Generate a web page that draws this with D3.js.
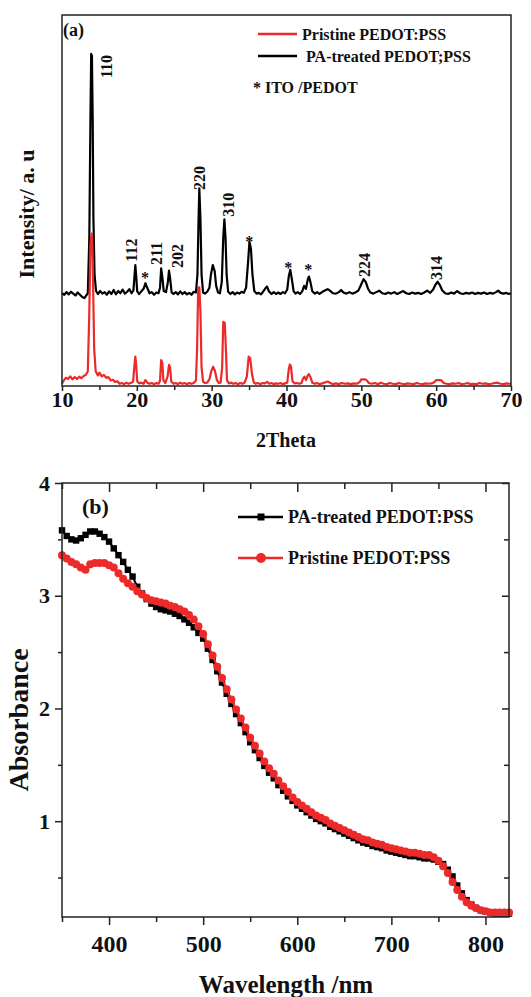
<!DOCTYPE html>
<html>
<head>
<meta charset="utf-8">
<script src="https://cdn.jsdelivr.net/npm/d3@7"></script>
<style>
  body { margin: 0; background: #fff; }
  text { font-family: "Liberation Serif", "Times New Roman", serif; font-weight: bold; fill: #111; }
</style>
</head>
<body>
<div id="chart"></div>
<script>
// ---- (a) XRD data, [2theta, intensity a.u.] ----
var xrdPA = [[10.0,25.0],[10.3,24.6],[10.6,25.3],[10.9,24.7],[11.2,25.4],[11.5,24.9],[11.8,24.4],[12.1,25.2],[12.4,24.6],[12.7,24.0],[13.0,23.7],[13.2,24.3],[13.45,25.0],[13.65,40],[13.8,72],[13.9,89.5],[14.0,89.0],[14.1,72],[14.2,45],[14.35,30],[14.55,25.6],[14.8,24.8],[15.1,25.6],[15.4,24.9],[15.7,25.3],[16.0,24.6],[16.3,25.5],[16.6,24.8],[16.9,25.9],[17.2,24.7],[17.5,25.6],[17.8,25.0],[18.1,26.0],[18.4,24.9],[18.7,25.4],[19.0,26.1],[19.3,25.0],[19.55,25.8],[19.7,30],[19.8,32.6],[19.9,30],[20.05,25.5],[20.3,24.8],[20.6,25.5],[20.9,26.2],[21.15,27.7],[21.4,26.4],[21.7,25.0],[22.0,25.3],[22.3,24.6],[22.6,25.2],[22.9,25.0],[23.1,26.5],[23.25,31.7],[23.4,29.5],[23.6,25.6],[23.9,25.3],[24.15,28],[24.3,31.1],[24.45,29],[24.65,25.2],[24.9,24.8],[25.2,25.3],[25.5,24.7],[25.8,25.5],[26.1,24.8],[26.4,25.3],[26.7,24.7],[27.0,25.1],[27.3,24.6],[27.6,25.4],[27.9,25.2],[28.1,30],[28.25,45],[28.35,53.3],[28.5,45],[28.65,30],[28.85,25.2],[29.1,24.9],[29.4,25.4],[29.7,26.5],[29.9,30],[30.15,32.6],[30.4,31.0],[30.6,27],[30.85,25.2],[31.1,25.0],[31.35,28],[31.55,40],[31.7,44.9],[31.85,40],[32.0,30],[32.2,25.4],[32.5,24.8],[32.8,25.3],[33.1,24.7],[33.4,25.2],[33.7,24.9],[34.0,25.4],[34.3,25.1],[34.6,26.5],[34.85,33],[35.05,38.9],[35.25,37],[35.45,30],[35.7,25.6],[36.0,24.9],[36.3,25.1],[36.6,24.7],[36.9,25.5],[37.2,26.4],[37.4,26.8],[37.65,25.5],[38.0,24.8],[38.3,25.3],[38.6,24.8],[38.9,25.2],[39.2,24.8],[39.5,25.3],[39.8,25.0],[40.1,26.0],[40.3,29.5],[40.5,31.3],[40.7,29],[40.95,25.6],[41.2,24.9],[41.5,25.3],[41.8,24.8],[42.1,25.5],[42.35,27.0],[42.6,26.2],[42.85,28.8],[43.0,29.5],[43.2,28],[43.45,25.5],[43.8,24.9],[44.1,25.3],[44.4,24.8],[44.8,25.4],[45.2,25.8],[45.5,26.1],[45.8,25.7],[46.2,25.0],[46.6,24.9],[47.0,25.3],[47.3,25.9],[47.6,25.2],[48.0,24.9],[48.4,25.3],[48.8,24.9],[49.2,25.2],[49.6,25.7],[49.9,27],[50.3,28.8],[50.6,28],[50.9,26.2],[51.2,25.2],[51.6,24.9],[52.0,25.3],[52.4,25.7],[52.8,25.0],[53.2,24.8],[53.6,25.2],[54.0,24.9],[54.4,25.3],[54.8,24.8],[55.2,25.2],[55.6,25.6],[56.0,25.0],[56.4,24.8],[56.8,25.2],[57.2,24.9],[57.6,25.1],[58.0,24.8],[58.4,25.2],[58.8,25.7],[59.2,25.1],[59.6,26],[59.9,27.3],[60.2,28.1],[60.5,27.2],[60.8,25.8],[61.2,25.0],[61.6,24.8],[62.0,25.2],[62.4,24.9],[62.8,25.6],[63.2,25.0],[63.6,24.8],[64.0,25.1],[64.4,24.9],[64.8,25.2],[65.2,24.8],[65.6,25.1],[66.0,24.9],[66.4,25.2],[66.8,24.8],[67.2,25.1],[67.6,24.9],[68.0,25.3],[68.3,25.7],[68.6,25.1],[69.0,24.9],[69.4,25.1],[69.7,24.8],[70.0,25.0]];

var xrdPristine = [[10.0,0.6],[10.2,1.4],[10.5,2.2],[10.8,1.9],[11.1,2.6],[11.4,1.8],[11.7,2.4],[12.0,1.9],[12.3,2.5],[12.6,2.1],[12.9,2.7],[13.2,3.0],[13.45,4],[13.65,20],[13.8,38],[13.95,41.1],[14.05,39],[14.15,28],[14.3,10],[14.5,4],[14.8,2.8],[15.0,3.6],[15.3,2.6],[15.6,3.0],[15.9,2.2],[16.2,2.4],[16.5,1.5],[16.8,1.7],[17.1,1.1],[17.4,1.3],[17.7,0.6],[18.0,0.8],[18.3,0.5],[18.6,0.9],[18.9,0.6],[19.2,0.8],[19.5,1.2],[19.7,6],[19.8,7.9],[19.9,6],[20.05,1.3],[20.3,0.7],[20.6,0.9],[20.9,0.6],[21.15,1.6],[21.4,0.9],[21.7,0.6],[22.0,0.8],[22.3,0.5],[22.6,0.8],[22.9,0.6],[23.1,1.5],[23.25,7.0],[23.4,6.3],[23.55,1.5],[23.8,0.8],[24.1,2.5],[24.3,5.7],[24.45,5.0],[24.6,1.2],[24.9,0.6],[25.2,0.8],[25.5,0.5],[25.8,0.9],[26.1,0.6],[26.4,0.8],[26.7,0.5],[27.0,0.8],[27.3,0.6],[27.6,0.8],[27.9,1.5],[28.05,10],[28.2,26.6],[28.35,26.6],[28.5,20],[28.65,5],[28.85,1.2],[29.1,0.8],[29.4,0.9],[29.7,1.8],[29.95,4],[30.2,5.2],[30.45,4],[30.7,1.6],[30.95,0.8],[31.2,0.9],[31.4,5],[31.55,17.3],[31.75,17.0],[31.9,10],[32.05,1.5],[32.3,0.7],[32.6,0.9],[32.9,0.6],[33.2,0.8],[33.5,0.5],[33.8,0.8],[34.1,0.6],[34.4,0.9],[34.7,2.5],[34.95,7.9],[35.15,7.5],[35.4,3],[35.65,0.9],[35.9,0.6],[36.2,0.8],[36.5,0.5],[36.8,0.8],[37.1,0.7],[37.4,1.1],[37.7,0.6],[38.0,0.8],[38.3,0.5],[38.6,0.7],[38.9,0.6],[39.2,0.8],[39.5,0.5],[39.8,0.7],[40.1,0.9],[40.3,4.5],[40.45,5.8],[40.6,5.2],[40.8,1.3],[41.1,0.7],[41.4,0.8],[41.7,0.6],[42.0,0.8],[42.2,2.0],[42.4,2.5],[42.6,1.6],[42.85,2.9],[43.0,3.2],[43.2,2.4],[43.45,0.9],[43.8,0.6],[44.1,0.8],[44.4,0.5],[44.8,0.7],[45.2,1.0],[45.5,1.2],[45.8,0.9],[46.2,0.5],[46.6,0.7],[47.0,0.5],[47.4,0.8],[47.8,0.6],[48.2,0.7],[48.6,0.5],[49.0,0.7],[49.4,0.6],[49.8,1.1],[50.0,1.8],[50.4,1.8],[50.7,1.6],[51.0,0.8],[51.4,0.6],[51.8,0.8],[52.2,0.5],[52.6,0.9],[53.0,0.6],[53.4,0.5],[53.8,0.8],[54.2,0.6],[54.6,0.5],[55.0,0.8],[55.4,0.6],[55.8,0.5],[56.2,0.7],[56.6,0.6],[57.0,0.5],[57.4,0.8],[57.8,0.6],[58.2,0.5],[58.6,0.7],[59.0,0.6],[59.4,0.7],[59.8,1.1],[60.0,1.6],[60.4,1.6],[60.7,1.5],[61.0,0.8],[61.4,0.6],[61.8,0.5],[62.2,0.7],[62.6,0.6],[63.0,0.8],[63.4,0.5],[63.8,0.6],[64.2,0.8],[64.6,0.5],[65.0,0.6],[65.4,0.5],[65.8,0.8],[66.2,0.6],[66.6,0.7],[67.0,0.5],[67.4,0.6],[67.8,0.8],[68.2,0.9],[68.6,0.6],[69.0,0.5],[69.4,0.7],[69.8,0.6],[70.0,0.5]];

// peak labels (hkl) and ITO stars, placed at [2theta, intensity]
var hklLabels = [["110",15.97,83.0],["112",19.31,33.5],["211",22.63,32.6],["202",25.39,31.8],["220",28.33,52.8],["310",32.22,45.6],["224",50.43,29.4],["314",59.98,28.6]];
var itoStars = [[21.09,29.9],[35.03,39.5],[40.24,32.6],[42.91,32.0]];
var thetaTicks = [10, 20, 30, 40, 50, 60, 70];

// ---- (b) UV-vis absorbance, every 5 nm from 350 to 825 ----
var wavelengths = d3.range(350, 826, 5);
var absPA = [3.58,3.53,3.50,3.49,3.51,3.54,3.57,3.57,3.55,3.52,3.48,3.42,3.36,3.30,3.23,3.17,3.08,3.02,2.97,2.93,2.90,2.88,2.87,2.86,2.84,2.82,2.79,2.76,2.72,2.67,2.62,2.53,2.43,2.33,2.23,2.13,2.04,1.95,1.87,1.79,1.70,1.63,1.56,1.49,1.43,1.38,1.32,1.27,1.22,1.18,1.14,1.11,1.08,1.05,1.02,1.00,0.98,0.95,0.93,0.91,0.89,0.87,0.85,0.83,0.81,0.80,0.78,0.77,0.76,0.74,0.73,0.72,0.71,0.70,0.69,0.69,0.68,0.67,0.67,0.66,0.64,0.62,0.57,0.51,0.43,0.36,0.30,0.26,0.23,0.21,0.20,0.19,0.18,0.18,0.18,0.18];
var absPristine = [3.36,3.33,3.30,3.28,3.25,3.23,3.28,3.29,3.29,3.29,3.27,3.25,3.20,3.15,3.11,3.08,3.04,3.01,2.98,2.96,2.95,2.94,2.93,2.91,2.90,2.88,2.86,2.83,2.79,2.73,2.66,2.57,2.47,2.37,2.27,2.17,2.08,1.99,1.91,1.83,1.74,1.67,1.60,1.53,1.47,1.42,1.36,1.31,1.26,1.21,1.17,1.14,1.11,1.08,1.05,1.03,1.01,0.98,0.96,0.94,0.92,0.90,0.88,0.86,0.84,0.83,0.81,0.80,0.79,0.77,0.76,0.75,0.74,0.73,0.72,0.72,0.71,0.70,0.70,0.68,0.65,0.60,0.54,0.46,0.39,0.33,0.28,0.25,0.23,0.21,0.20,0.19,0.19,0.19,0.19,0.19];
var wlAllTicks = [350, 400, 450, 500, 550, 600, 650, 700, 750, 800];
var absTicks = [1, 2, 3, 4];
var absMinor = [0.5, 1.5, 2.5, 3.5];

var RED = "#ec2a2a";

var svg = d3.select("#chart").append("svg")
    .attr("width", 531)
    .attr("height", 997);

// ================= panel (a) =================
var xA = d3.scaleLinear().domain([10, 70]).range([62, 511]);
var yA = d3.scaleLinear().domain([0, 100]).range([386, 15]);

var gA = svg.append("g");

// minor ticks every 5 deg, outward
gA.append("g")
    .attr("transform", "translate(0,386)")
    .call(d3.axisBottom(xA).tickValues(d3.range(15, 70, 10)).tickSize(4).tickFormat(""))
    .call(function (g) { g.select(".domain").remove() });
gA.append("g")
    .attr("transform", "translate(0,386)")
    .call(d3.axisBottom(xA).tickValues(thetaTicks).tickSize(5).tickPadding(0).tickFormat(d3.format("d")))
    .call(function (g) { g.select(".domain").remove() })
    .selectAll("text").style("font-size", "22px").attr("fill", "#111");
gA.selectAll(".tick line").attr("stroke", "#222").attr("stroke-width", 1.5);

var lineA = d3.line().x(function (d) { return xA(d[0]) }).y(function (d) { return yA(d[1]) });

gA.append("path").datum(xrdPA)
    .attr("d", lineA).attr("fill", "none").attr("stroke", "#000").attr("stroke-width", 2.2).attr("stroke-linejoin", "round");
gA.append("path").datum(xrdPristine)
    .attr("d", lineA).attr("fill", "none").attr("stroke", RED).attr("stroke-width", 2.2).attr("stroke-linejoin", "round");

gA.append("rect").attr("x", 62).attr("y", 15).attr("width", 449).attr("height", 371)
    .attr("fill", "none").attr("stroke", "#222").attr("stroke-width", 1.5);

// hkl labels, rotated
gA.selectAll(".hkl").data(hklLabels).enter().append("text")
    .attr("class", "hkl")
    .attr("transform", function (d) { return "translate(" + (xA(d[1]) + 5.5) + "," + yA(d[2]) + ") rotate(-90)" })
    .style("font-size", "16px")
    .text(function (d) { return d[0] });

gA.selectAll(".star").data(itoStars).enter().append("text")
    .attr("class", "star")
    .attr("x", function (d) { return xA(d[0]) })
    .attr("y", function (d) { return yA(d[1]) + 8 })
    .attr("text-anchor", "middle")
    .style("font-size", "16px")
    .text("*");

gA.append("text").attr("x", 63).attr("y", 36).style("font-size", "18px").text("(a)");

// legend (a)
gA.append("line").attr("x1", 258).attr("x2", 297).attr("y1", 34).attr("y2", 34).attr("stroke", RED).attr("stroke-width", 2.5);
gA.append("text").attr("x", 302).attr("y", 40).style("font-size", "16px").text("Pristine PEDOT:PSS");
gA.append("line").attr("x1", 258).attr("x2", 297).attr("y1", 56).attr("y2", 56).attr("stroke", "#000").attr("stroke-width", 2.5);
gA.append("text").attr("x", 306).attr("y", 62).style("font-size", "16px").text("PA-treated PEDOT;PSS");
gA.append("text").attr("x", 253).attr("y", 93).style("font-size", "16px").text("* ITO /PEDOT");

gA.append("text").attr("transform", "translate(34,214) rotate(-90)").attr("text-anchor", "middle")
    .style("font-size", "22px").text("Intensity/ a. u");
gA.append("text").attr("x", 286).attr("y", 447).attr("text-anchor", "middle")
    .style("font-size", "20px").text("2Theta");

// ================= panel (b) =================
var xB = d3.scaleLinear().domain([350, 825]).range([62, 509]);
var yB = d3.scaleLinear().domain([0.15, 4]).range([917, 483]);

var gB = svg.append("g");

function isMajorWl(v) { return v % 100 === 0 }

// bottom (outward) and top (inward) ticks
gB.append("g").attr("transform", "translate(0,917)")
    .call(d3.axisBottom(xB).tickValues(wlAllTicks).tickSizeInner(0).tickFormat(function (v) { return isMajorWl(v) ? v : "" }).tickPadding(18))
    .call(function (g) {
        g.select(".domain").remove();
        g.selectAll(".tick line").attr("y2", function (v) { return isMajorWl(v) ? 8 : 5 });
    })
    .selectAll("text").style("font-size", "24px").attr("fill", "#111");
gB.append("g").attr("transform", "translate(0,483)")
    .call(d3.axisTop(xB).tickValues(wlAllTicks).tickFormat(""))
    .call(function (g) {
        g.select(".domain").remove();
        g.selectAll(".tick line").attr("y2", function (v) { return isMajorWl(v) ? 9 : 6 });
    });

// left (outward) and right (inward) ticks
gB.append("g").attr("transform", "translate(62,0)")
    .call(d3.axisLeft(yB).tickValues(absTicks).tickSize(7).tickPadding(5).tickFormat(d3.format("d")))
    .call(function (g) { g.select(".domain").remove() })
    .selectAll("text").style("font-size", "22px").attr("fill", "#111");
gB.append("g").attr("transform", "translate(62,0)")
    .call(d3.axisLeft(yB).tickValues(absMinor).tickSize(4).tickFormat(""))
    .call(function (g) { g.select(".domain").remove() });
gB.append("g").attr("transform", "translate(509,0)")
    .call(d3.axisRight(yB).tickValues(absTicks.concat(absMinor)).tickFormat(""))
    .call(function (g) {
        g.select(".domain").remove();
        g.selectAll(".tick line").attr("x2", function (v) { return absTicks.indexOf(v) >= 0 ? -7 : -5 });
    });
gB.selectAll(".tick line").attr("stroke", "#222").attr("stroke-width", 1.5);

var lineB = d3.line().x(function (d) { return xB(d[0]) }).y(function (d) { return yB(d[1]) });
var paPts = wavelengths.map(function (w, i) { return [w, absPA[i]] });
var prPts = wavelengths.map(function (w, i) { return [w, absPristine[i]] });

gB.append("path").datum(paPts).attr("d", lineB).attr("fill", "none").attr("stroke", "#000").attr("stroke-width", 2);
gB.selectAll(".sq").data(paPts).enter().append("rect")
    .attr("x", function (d) { return xB(d[0]) - 3.2 })
    .attr("y", function (d) { return yB(d[1]) - 3.2 })
    .attr("width", 6.4).attr("height", 6.4).attr("fill", "#000");

gB.append("path").datum(prPts).attr("d", lineB).attr("fill", "none").attr("stroke", RED).attr("stroke-width", 2);
gB.selectAll(".ci").data(prPts).enter().append("circle")
    .attr("cx", function (d) { return xB(d[0]) })
    .attr("cy", function (d) { return yB(d[1]) })
    .attr("r", 4).attr("fill", RED);

gB.append("rect").attr("x", 62).attr("y", 483).attr("width", 447).attr("height", 434)
    .attr("fill", "none").attr("stroke", "#222").attr("stroke-width", 1.5);

gB.append("text").attr("x", 82).attr("y", 514).style("font-size", "22px").text("(b)");

// legend (b)
gB.append("line").attr("x1", 238).attr("x2", 283).attr("y1", 517).attr("y2", 517).attr("stroke", "#000").attr("stroke-width", 2.5);
gB.append("rect").attr("x", 257.5).attr("y", 513.5).attr("width", 7).attr("height", 7).attr("fill", "#000");
gB.append("text").attr("x", 288).attr("y", 523).style("font-size", "18px").text("PA-treated PEDOT:PSS");
gB.append("line").attr("x1", 238).attr("x2", 283).attr("y1", 558).attr("y2", 558).attr("stroke", RED).attr("stroke-width", 2.5);
gB.append("circle").attr("cx", 261).attr("cy", 558).attr("r", 5).attr("fill", RED);
gB.append("text").attr("x", 288).attr("y", 564).style("font-size", "18px").text("Pristine PEDOT:PSS");

gB.append("text").attr("transform", "translate(28,720) rotate(-90)").attr("text-anchor", "middle")
    .style("font-size", "28px").text("Absorbance");
gB.append("text").attr("x", 286).attr("y", 993).attr("text-anchor", "middle")
    .style("font-size", "25px").text("Wavelength /nm");
</script>
</body>
</html>
